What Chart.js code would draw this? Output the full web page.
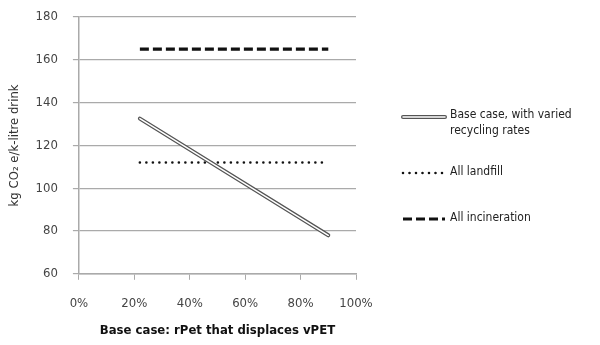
<!DOCTYPE html>
<html>
<head>
<meta charset="utf-8">
<script src="https://cdn.jsdelivr.net/npm/chart.js@4"></script>
<style>
  html, body { margin: 0; padding: 0; background: #fff; }
  #wrap { width: 600px; height: 345px; position: relative; }
</style>
</head>
<body>
<div id="wrap"><canvas id="chart"></canvas></div>
<script>
// ===== Data =====
const xTicks = [0, 20, 40, 60, 80, 100];           // % rPet
const baseX = [22, 90];
const baseY = [132.5, 78];
const landfillX = [22, 90];
const landfillY = [112, 112];
const incinX = [22, 90];
const incinY = [165, 165];
const seriesNames = ["Base case, with varied|recycling rates", "All landfill", "All incineration"];

const FONT = "'Liberation Sans Narrow', 'DejaVu Sans Condensed', sans-serif";
const pts = (xs, ys) => xs.map((x, i) => ({ x: x, y: ys[i] }));

// ===== Legend drawn at the right =====
const sideLegend = {
  id: "sideLegend",
  afterDraw(chart) {
    const ctx = chart.ctx;
    const a = chart.chartArea;
    const x0 = a.right + 47, x1 = a.right + 89, tx = a.right + 94;
    const rows = [a.top + 98, a.top + 155, a.top + 201];
    ctx.save();
    ctx.font = "12px " + FONT;
    ctx.fillStyle = "#222";
    ctx.textBaseline = "middle";

    // base case: double line
    let y = rows[0];
    ctx.lineCap = "round";
    ctx.strokeStyle = "#555"; ctx.lineWidth = 4;
    ctx.beginPath(); ctx.moveTo(x0, y + 2); ctx.lineTo(x1, y + 2); ctx.stroke();
    ctx.strokeStyle = "#fff"; ctx.lineWidth = 1.5;
    ctx.beginPath(); ctx.moveTo(x0, y + 2); ctx.lineTo(x1, y + 2); ctx.stroke();
    const parts = seriesNames[0].split("|");
    ctx.fillText(parts[0], tx, y);
    ctx.fillText(parts[1], tx, y + 16);

    // landfill: dots
    y = rows[1];
    ctx.strokeStyle = "#111"; ctx.lineWidth = 2.6; ctx.lineCap = "round";
    ctx.setLineDash([0, 6.5]);
    ctx.beginPath(); ctx.moveTo(x0, y + 1); ctx.lineTo(x1, y + 1); ctx.stroke();
    ctx.fillText(seriesNames[1], tx, y);

    // incineration: dashes
    y = rows[2];
    ctx.lineCap = "butt"; ctx.lineWidth = 3.2;
    ctx.setLineDash([9, 4]);
    ctx.beginPath(); ctx.moveTo(x0, y + 1); ctx.lineTo(x1, y + 1); ctx.stroke();
    ctx.setLineDash([]);
    ctx.fillText(seriesNames[2], tx, y);
    ctx.restore();
  }
};

const ctx = document.getElementById("chart").getContext("2d");
new Chart(ctx, {
  type: "line",
  data: {
    datasets: [
      { label: "base-inner", order: 1, data: pts(baseX, baseY), borderColor: "#fff", borderWidth: 1.5, borderCapStyle: "round", pointRadius: 0 },
      { label: "base-outer", order: 2, data: pts(baseX, baseY), borderColor: "#555", borderWidth: 4, borderCapStyle: "round", pointRadius: 0 },
      { label: "landfill", order: 3, data: pts(landfillX, landfillY), borderColor: "#111", borderWidth: 2.6, borderCapStyle: "round", borderDash: [0, 6.5], pointRadius: 0 },
      { label: "incineration", order: 4, data: pts(incinX, incinY), borderColor: "#111", borderWidth: 3.2, borderDash: [9, 4], pointRadius: 0 }
    ]
  },
  options: {
    responsive: true,
    maintainAspectRatio: false,
    animation: false,
    layout: { padding: { left: 3, right: 244, top: 17, bottom: 5 } },
    plugins: { legend: { display: false }, tooltip: { enabled: false } },
    scales: {
      x: {
        type: "linear",
        min: 0, max: 100,
        afterBuildTicks: (s) => { s.ticks = xTicks.map(v => ({ value: v })); },
        ticks: { callback: (v) => v + "%", color: "#444", padding: 16, font: { family: FONT, size: 13 } },
        grid: { drawOnChartArea: false, drawTicks: true, tickLength: 6, color: "#aaa" },
        border: { color: "#aaa", width: 1.5 },
        title: { display: true, text: "Base case: rPet that displaces vPET", color: "#111", padding: { top: -5, bottom: 2 }, font: { family: FONT, size: 13, weight: "bold" } }
      },
      y: {
        min: 60, max: 180,
        afterFit: (s) => { s.paddingTop = 0; s.paddingBottom = 0; },
        ticks: { stepSize: 20, color: "#444", padding: 15, font: { family: FONT, size: 13 } },
        grid: { color: "#aaa", lineWidth: 1.2, tickLength: 6 },
        border: { color: "#aaa", width: 1.5 },
        title: { display: true, text: "kg CO\u2082 e/k-litre drink", color: "#333", padding: { top: 4, bottom: -2 }, font: { family: FONT, size: 13 } }
      }
    }
  },
  plugins: [sideLegend]
});
</script>
</body>
</html>
